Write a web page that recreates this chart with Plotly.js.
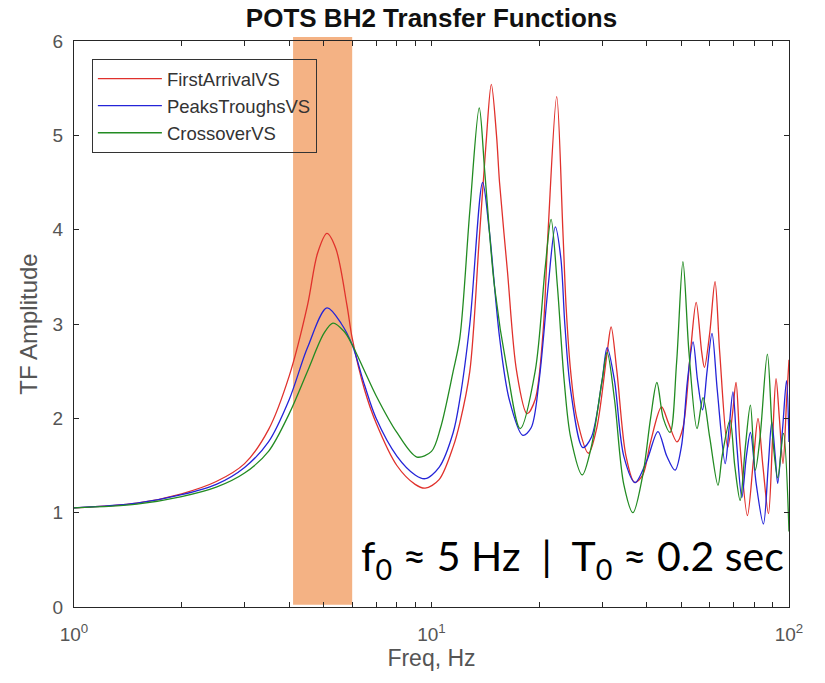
<!DOCTYPE html>
<html>
<head>
<meta charset="utf-8">
<script src="https://cdn.plot.ly/plotly-3.0.1.min.js"></script>
<style>html,body{margin:0;padding:0;background:#fff;}#chart{width:825px;height:683px;}</style>
</head>
<body>
<div id="chart"></div>
<script>
// ---- data ----
const seriesNames = ["FirstArrivalVS", "PeaksTroughsVS", "CrossoverVS"];

const freqRed = [1.0,1.5,2.0,2.5,3.0,3.5,4.0,4.5,4.8,5.1,5.4,5.8,6.0,6.5,7.0,8.0,9.0,9.6,10.5,11.5,12.0,12.8,13.6,14.2,14.7,15.2,15.5,16.3,17.3,18.5,19.5,20.5,21.2,22.4,23.3,23.8,24.5,25.5,27.5,29.0,31.0,31.8,33.0,35.0,37.0,39.0,41.0,44.0,46.0,48.6,50.5,53.0,55.0,57.0,58.0,60.0,62.1,64.0,67.4,69.5,71.1,73.0,76.5,79.5,81.9,84.5,87.6,90.0,92.0,94.0,96.2,98.5,100];
const ampRed  = [1.05,1.10,1.20,1.33,1.52,1.88,2.45,3.20,3.75,3.96,3.80,3.20,2.85,2.30,1.95,1.50,1.30,1.26,1.35,1.70,1.95,2.50,3.90,4.90,5.54,5.00,4.50,3.57,2.50,2.05,2.20,2.90,4.00,5.41,4.00,3.18,2.50,2.00,1.63,1.90,2.70,2.97,2.50,1.60,1.32,1.40,1.75,2.12,1.95,1.75,1.90,2.70,3.23,2.70,2.54,2.90,3.45,2.70,1.69,2.05,2.38,1.70,0.97,1.55,2.00,1.50,0.99,1.80,2.42,2.00,1.52,2.20,2.62];

const freqBlue = [1.0,1.5,2.0,2.5,3.0,3.5,4.0,4.5,5.1,5.6,6.0,6.5,7.0,8.0,9.0,9.6,10.5,11.5,12.0,12.8,13.9,14.5,15.5,16.5,18.0,19.0,20.0,21.2,22.2,23.0,23.6,24.5,26.5,28.0,30.0,31.0,32.5,34.5,37.1,40.0,43.0,45.5,48.0,50.0,52.0,53.9,55.5,57.3,59.0,60.9,63.0,66.3,68.0,69.7,71.5,73.8,76.0,78.0,81.0,84.8,87.5,89.5,91.5,93.0,96.0,98.4,100];
const ampBlue  = [1.05,1.10,1.19,1.30,1.48,1.75,2.20,2.75,3.17,3.00,2.78,2.35,2.00,1.60,1.40,1.36,1.48,1.85,2.20,3.00,4.50,4.00,2.86,2.20,1.82,1.90,2.40,3.40,4.03,3.70,3.00,2.30,1.69,1.80,2.40,2.75,2.40,1.60,1.32,1.55,1.86,1.60,1.45,1.70,2.40,2.81,2.40,2.09,2.50,2.90,2.30,1.52,1.90,2.28,1.70,1.16,1.60,1.85,1.30,0.88,1.50,1.96,1.60,1.31,1.90,2.40,1.75];

const freqGreen = [1.0,1.5,2.0,2.5,3.0,3.5,4.0,4.5,5.0,5.3,5.7,6.0,6.5,7.0,8.0,9.1,10.0,10.6,11.5,12.0,12.8,13.6,14.1,15.0,16.3,17.7,19.5,20.8,21.6,22.5,23.5,24.5,26.4,28.0,30.0,31.0,32.5,34.5,36.6,39.0,41.0,42.7,44.5,46.5,48.5,50.5,52.5,55.3,57.5,60.0,63.3,65.0,68.4,70.5,73.0,75.5,78.0,80.5,83.0,87.0,90.0,93.0,96.5,100];
const ampGreen  = [1.05,1.09,1.17,1.27,1.42,1.65,2.05,2.50,2.90,3.01,2.92,2.78,2.50,2.24,1.85,1.59,1.65,1.90,2.50,2.85,4.20,5.29,4.60,3.40,2.50,1.89,2.50,3.60,4.11,3.40,2.40,1.80,1.40,1.70,2.40,2.70,2.20,1.30,1.00,1.40,2.00,2.38,2.00,1.85,2.60,3.66,2.70,1.89,2.22,1.80,1.29,1.60,1.98,1.50,1.13,1.70,2.14,1.45,1.80,2.68,1.80,1.37,1.84,0.80];

const xTickVals = [1,2,3,4,5,6,7,8,9,10,20,30,40,50,60,70,80,90,100];
const xTickText = ["10<sup>0</sup>","","","","","","","","","10<sup>1</sup>","","","","","","","","","10<sup>2</sup>"];
const bandRange = [4.1, 6.0];
const noteText = "f<sub>0</sub> ≈ 5 Hz  |  T<sub>0</sub> ≈ 0.2 sec";
const titleText = "POTS BH2 Transfer Functions";

const colors = ["#e0312c", "#2424d8", "#228b22"];
const xs = [freqRed, freqBlue, freqGreen];
const ys = [ampRed, ampBlue, ampGreen];

const traces = seriesNames.map((n, i) => ({
  x: xs[i], y: ys[i], name: n, type: "scatter", mode: "lines",
  line: {color: colors[i], width: 1.3, shape: "spline", smoothing: 0.9}
}));

const FONT = "Liberation Sans, Arial, sans-serif";
const axisCommon = {
  showline: true, linecolor: "#262626", linewidth: 1, mirror: "ticks",
  ticks: "inside", ticklen: 5, tickcolor: "#262626",
  showgrid: false, zeroline: false,
  tickfont: {family: FONT, size: 19, color: "#555"}
};

const layout = {
  width: 825, height: 683,
  margin: {l: 74, r: 36, t: 41, b: 76},
  paper_bgcolor: "#fff", plot_bgcolor: "#fff",
  title: {text: "<b>" + titleText + "</b>", xref: "paper", x: 0.5, yref: "container", y: 0.974, yanchor: "middle",
          font: {family: FONT, size: 26, color: "#111"}},
  xaxis: Object.assign({}, axisCommon, {
    type: "log", range: [0, 2], tickmode: "array", tickvals: xTickVals, ticktext: xTickText,
    ticklabelstandoff: 10,
    title: {text: "Freq, Hz", standoff: 6, font: {family: FONT, size: 23, color: "#555"}}
  }),
  yaxis: Object.assign({}, axisCommon, {
    range: [0, 6], dtick: 1, tick0: 0, ticklabelstandoff: 6,
    title: {text: "TF Amplitude", standoff: 8, font: {family: FONT, size: 24, color: "#555"}}
  }),
  legend: {x: 0.025, y: 0.968, xanchor: "left", yanchor: "top", bgcolor: "rgba(0,0,0,0)",
           bordercolor: "#333", borderwidth: 1, itemwidth: 64,
           font: {family: FONT, size: 18.5, color: "#333"}},
  shapes: [{type: "rect", xref: "x", yref: "paper", x0: bandRange[0], x1: bandRange[1], y0: 0.004, y1: 1.007,
            fillcolor: "rgb(244,178,132)", line: {width: 0}, layer: "below"}],
  annotations: [{xref: "paper", yref: "paper", x: 0.9986, y: 0.007, xanchor: "right", yanchor: "bottom",
                 yshift: 13, text: noteText, showarrow: false, bgcolor: "#fff", borderpad: 3,
                 font: {family: "Lato, sans-serif", size: 41, color: "#000"}}],
  showlegend: true
};

Plotly.newPlot("chart", traces, layout, {displayModeBar: false, staticPlot: true});
</script>
</body>
</html>
